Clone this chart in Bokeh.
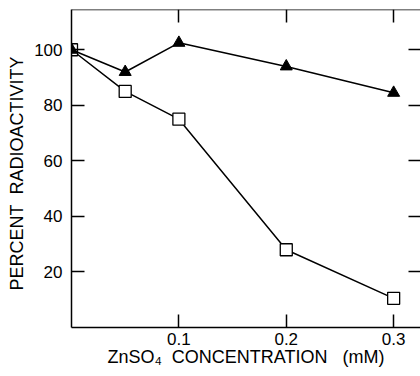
from bokeh.plotting import figure
from bokeh.models import FixedTicker, LinearAxis, Range1d, Spacer
from bokeh.layouts import row
from bokeh.embed import file_html
from bokeh.resources import INLINE

conc = [0.0, 0.05, 0.1, 0.2, 0.3]
triangle_vals = [100, 92, 102.5, 94, 84.5]
square_vals = [100, 85, 75, 28, 10.5]
x_ticks = [0.1, 0.2, 0.3]
y_ticks = [20, 40, 60, 80, 100]
X_END = 0.325
Y_END = 114.5

FONT = "Liberation Sans"
NB = "\u00a0"

p = figure(width=416, height=376, output_backend="svg", toolbar_location=None,
           x_range=Range1d(0, X_END), y_range=Range1d(0, Y_END),
           min_border_left=0, min_border_right=0, min_border_top=9, min_border_bottom=49,
           x_axis_label="ZnSO\u2084" + NB * 2 + "CONCENTRATION" + NB * 3 + "(mM)",
           y_axis_label="PERCENT" + NB * 2 + "RADIOACTIVITY" + NB * 2)
p.outline_line_color = None
p.grid.visible = False
p.background_fill_color = "white"
p.border_fill_color = "white"

for ax in (p.xaxis[0], p.yaxis[0]):
    ax.major_tick_in = 13
    ax.major_tick_out = 0
    ax.minor_tick_line_color = None
    ax.axis_line_width = 1.5
    ax.major_tick_line_width = 1.5
    ax.axis_line_color = "black"
    ax.major_tick_line_color = "black"
    ax.major_label_text_font = FONT
    ax.major_label_text_font_size = "17px"
    ax.major_label_text_color = "black"
    ax.axis_label_text_font = FONT
    ax.axis_label_text_font_size = "18px"
    ax.axis_label_text_font_style = "normal"
    ax.axis_label_text_color = "black"

p.xaxis[0].ticker = FixedTicker(ticks=x_ticks)
p.yaxis[0].ticker = FixedTicker(ticks=y_ticks)
p.xaxis[0].major_label_standoff = 5
p.xaxis[0].axis_label_standoff = -1
p.yaxis[0].major_label_standoff = 9
p.yaxis[0].axis_label_standoff = 4

top = LinearAxis(ticker=FixedTicker(ticks=x_ticks), fixed_location=Y_END,
                 major_tick_in=13, major_tick_out=0,
                 major_label_overrides={t: "" for t in x_ticks}, major_label_standoff=0,
                 minor_tick_line_color=None, axis_line_width=1.5, major_tick_line_width=1.5)
p.add_layout(top, "above")
right = LinearAxis(ticker=FixedTicker(ticks=y_ticks), fixed_location=X_END,
                   major_tick_in=12, major_tick_out=0,
                   major_label_overrides={t: "" for t in y_ticks}, major_label_standoff=0,
                   minor_tick_line_color=None, axis_line_color=None, major_tick_line_width=1.5)
p.add_layout(right, "right")

p.line(conc, square_vals, line_color="black", line_width=1.5)
p.scatter(conc, square_vals, marker="square", size=12, fill_color="white",
          line_color="black", line_width=1.3)
p.line(conc, triangle_vals, line_color="black", line_width=1.5)
p.scatter(conc, triangle_vals, marker="triangle", size=12, fill_color="black",
          line_color="black")

layout = row(Spacer(width=4, height=376), p)
open("out.html", "w").write(file_html(layout, INLINE))
